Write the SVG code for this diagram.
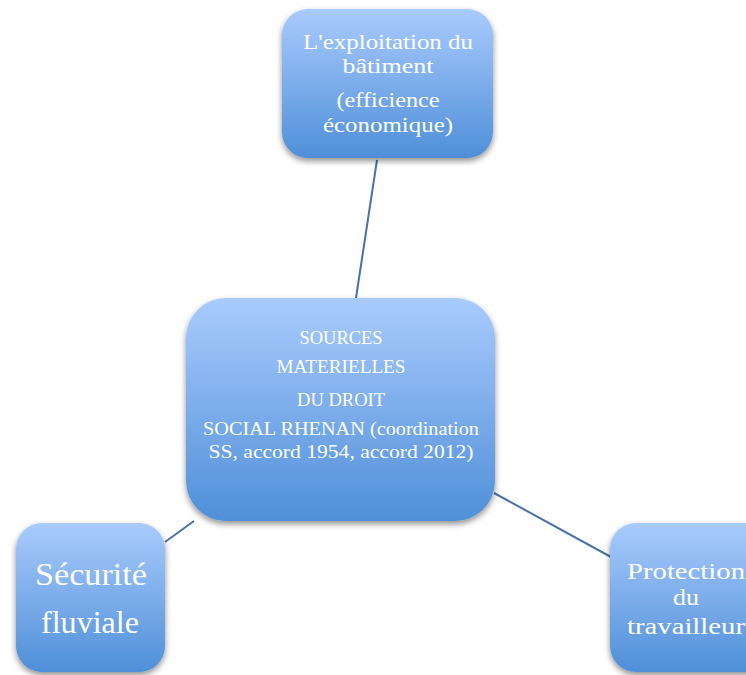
<svg xmlns="http://www.w3.org/2000/svg" width="746" height="675" viewBox="0 0 746 675">
<defs>
<linearGradient id="g" x1="0" y1="0" x2="0" y2="1">
<stop offset="0" stop-color="#a9cbfd"/>
<stop offset="1" stop-color="#4f8fd8"/>
</linearGradient>
<filter id="sh" x="-20%" y="-20%" width="140%" height="140%">
<feGaussianBlur in="SourceAlpha" stdDeviation="3"/>
<feOffset dx="0" dy="3" result="b"/>
<feComponentTransfer><feFuncA type="linear" slope="0.45"/></feComponentTransfer>
<feMerge><feMergeNode/><feMergeNode in="SourceGraphic"/></feMerge>
</filter>
</defs>
<style>
.box{fill:url(#g);filter:url(#sh)}
.t{fill:#ffffff;font-family:"Liberation Serif","DejaVu Serif",serif;text-anchor:middle}
.c{stroke:#4a72a4;stroke-width:2;fill:none}
</style>
<rect width="746" height="675" fill="#ffffff"/>
<g id="connectors">
<line class="c" x1="377" y1="160" x2="356" y2="298"/>
<line class="c" x1="165" y1="542" x2="194" y2="521"/>
<line class="c" x1="494" y1="493" x2="611" y2="557"/>
</g>
<g id="node-top">
<rect class="box" x="282" y="9" width="211" height="149" rx="26"/>
<text class="t" font-size="21.5" x="388" y="49" textLength="170" lengthAdjust="spacingAndGlyphs">L'exploitation du</text>
<text class="t" font-size="21.5" x="388" y="73" textLength="91" lengthAdjust="spacingAndGlyphs">bâtiment</text>
<text class="t" font-size="21.5" x="388" y="107" textLength="103" lengthAdjust="spacingAndGlyphs">(efficience</text>
<text class="t" font-size="21.5" x="388" y="132" textLength="130" lengthAdjust="spacingAndGlyphs">économique)</text>
</g>
<g id="node-center">
<rect class="box" x="186" y="298" width="309" height="223" rx="40"/>
<text class="t" font-size="19.5" x="341" y="344" textLength="83" lengthAdjust="spacingAndGlyphs">SOURCES</text>
<text class="t" font-size="19.5" x="341" y="373" textLength="129" lengthAdjust="spacingAndGlyphs">MATERIELLES</text>
<text class="t" font-size="19.5" x="341" y="406" textLength="88" lengthAdjust="spacingAndGlyphs">DU DROIT</text>
<text class="t" font-size="19.5" x="341" y="435" textLength="276" lengthAdjust="spacingAndGlyphs">SOCIAL RHENAN (coordination</text>
<text class="t" font-size="19.5" x="341" y="458" textLength="265" lengthAdjust="spacingAndGlyphs">SS, accord 1954, accord 2012)</text>
</g>
<g id="node-left">
<rect class="box" x="16" y="523" width="149" height="149" rx="26"/>
<text class="t" font-size="31" x="91" y="585" textLength="112" lengthAdjust="spacingAndGlyphs">Sécurité</text>
<text class="t" font-size="31" x="90" y="633" textLength="98" lengthAdjust="spacingAndGlyphs">fluviale</text>
</g>
<g id="node-right">
<rect class="box" x="610" y="523" width="170" height="149" rx="26"/>
<text class="t" font-size="24" x="686" y="579" textLength="118" lengthAdjust="spacingAndGlyphs">Protection</text>
<text class="t" font-size="24" x="686" y="605" textLength="26" lengthAdjust="spacingAndGlyphs">du</text>
<text class="t" font-size="24" x="686" y="634" textLength="118" lengthAdjust="spacingAndGlyphs">travailleur</text>
</g>
</svg>
